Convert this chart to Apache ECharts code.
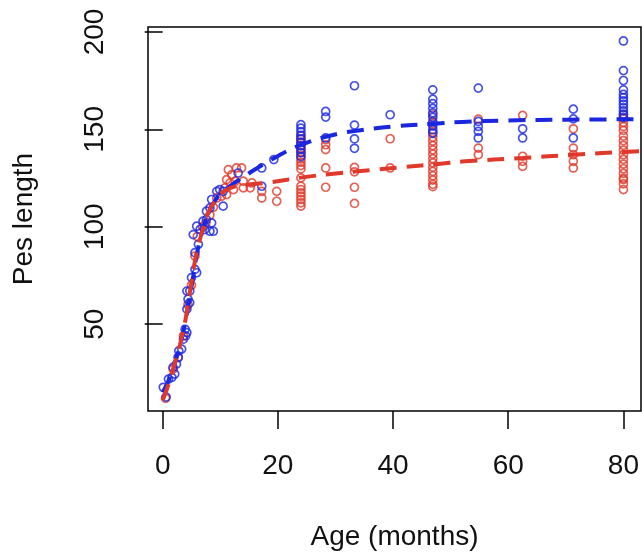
<!DOCTYPE html>
<html>
<head>
<meta charset="utf-8">
<script src="https://cdn.jsdelivr.net/npm/echarts@6/dist/echarts.min.js"></script>
<style>
html,body{margin:0;padding:0;background:#fff;}
#chart{width:642px;height:556px;}
</style>
</head>
<body>
<div id="chart"></div>
<script>
// ---- data ----
var xTicks = [0, 20, 40, 60, 80];
var yTicks = [50, 100, 150, 200];

var blueAge = [0.6,0.1,1.0,1.6,2.1,1.8,2.4,2.7,2.8,3.3,3.6,4.0,4.2,3.9,4.2,4.4,4.2,4.7,4.7,5.0,5.9,5.6,5.6,6.2,5.3,5.9,6.5,7.3,8.2,8.8,7.0,7.6,8.5,7.6,8.2,8.5,9.4,9.9,10.5,10.5,13.1,17.2,17.2,19.3,
  24,24,24,24,24,24,24,24,24,24,
  28.3,28.3,28.3,
  33.3,33.3,33.3,33.3,
  39.5,
  46.9,46.9,46.9,46.9,46.9,46.9,46.9,46.9,46.9,46.9,
  54.8,54.8,54.8,54.8,54.8,
  62.5,62.5,
  71.3,71.3,71.3,
  80,80,80,80,80,80,80,80,80,80,80,80];
var blueLen = [12.6,17.6,21.8,22.7,24.4,27.8,29.5,32.9,36.3,37.2,42.3,44.0,45.7,47.4,57.7,62.8,67.0,67.0,61.1,73.9,76.4,78.1,86.7,91.0,96.0,100.3,98.6,98.6,97.7,97.7,102.9,103.7,102.0,108.0,109.7,114.0,118.2,119.1,110.6,118.2,127.6,130.2,120.8,134.5,
  152.4,150.6,148.8,147.0,145.2,143.4,141.6,139.8,138.0,136.0,
  159.2,156.3,145.6,
  172.4,152.2,145.1,140.3,
  157.5,
  170.3,165.5,163.2,160.8,158.5,156.2,154.0,151.8,149.8,148.0,
  171.2,154.1,151.5,149.0,145.6,
  150.3,145.6,
  160.4,155.4,145.6,
  195.4,180.2,175.1,170.3,168.0,166.3,164.6,162.9,161.2,159.5,157.8,156.2];

var redAge = [0.5,1.8,2.7,3.6,4.4,5.0,5.6,6.0,6.9,7.5,8.2,8.8,9.4,10.2,11.1,10.8,12.3,11.1,11.7,12.6,11.4,12.0,12.8,13.7,14.0,14.0,15.5,15.2,17.2,17.2,19.8,19.8,
  24,24,24,24,24,24,24,24,24,24,24,24,24,24,24,24,24,24,24,
  28.3,28.3,28.3,28.3,28.3,
  33.3,33.3,33.3,33.3,
  39.5,39.5,
  46.9,46.9,46.9,46.9,46.9,46.9,46.9,46.9,46.9,46.9,46.9,46.9,46.9,46.9,46.9,46.9,
  54.8,54.8,54.8,
  62.5,62.5,62.5,62.5,
  71.3,71.3,71.3,71.3,71.3,
  80,80,80,80,80,80,80,80,80,80,80,80,80,80,80,80,80,80];
var redLen = [12.0,27.0,33.0,44.0,60.0,70.0,85.0,95.0,100.0,102.0,106.0,110.0,114.8,115.7,116.5,120.0,119.1,124.2,122.5,123.4,129.3,126.8,130.2,130.2,123.4,120.0,122.5,120.0,118.2,114.8,118.2,113.1,
  146.6,145.0,143.3,141.6,139.9,138.2,136.5,134.8,133.1,131.4,129.7,125.1,120.8,119.1,117.4,115.7,114.0,112.3,110.6,
  144.7,142.1,139.6,130.2,120.3,
  130.5,128.2,120.3,112.0,
  145.2,130.2,
  157.5,153.0,148.5,146.0,144.0,141.7,139.5,137.3,135.0,132.8,130.6,128.4,126.2,124.0,121.8,120.6,
  155.3,140.4,137.0,
  157.2,136.2,133.6,131.0,
  150.3,140.4,137.0,133.6,130.2,
  157.5,155.5,153.5,151.5,149.5,146.6,144.2,141.8,139.4,137.0,134.6,132.2,129.8,127.4,125.0,124.2,122.0,119.1];

var blueFitAge = [0,1,2,3,4,5,6,7,8,9,10,12,14.6,18.9,24,30.5,35,40,47,52,60,70,83];
var blueFitLen = [15,21,29,39,52,69,87,99,107.5,113,117,121.5,126.8,134.5,142,147.8,149.8,151.5,152.9,153.8,154.6,155,155.2];

var redFitAge = [0,1,2,3,4,4.7,5.9,7,7.6,8.5,9.7,11,12.3,15,18.6,24.6,30.5,36.3,42,47.8,52.5,62.5,71.3,80,83];
var redFitLen = [11,19,29,39.5,53,66,87,99,105,110.5,115.7,118.8,120.5,121.7,122.8,125.5,127.5,129.1,130.7,132.2,133.6,135.3,137,138.4,138.8];

// ---- build ----
function pairs(a, b) { return a.map(function (v, i) { return [v, b[i]]; }); }
var BLUE = '#1a26e0';
var RED = '#e0392b';
var FONT = "'Liberation Sans', Arial, sans-serif";

var chart = echarts.init(document.getElementById('chart'), null, {renderer: 'canvas'});
chart.setOption({
  animation: false,
  backgroundColor: '#ffffff',
  grid: {
    left: 148, right: 1, top: 27, bottom: 144,
    show: true, borderColor: '#000', borderWidth: 1.5, backgroundColor: 'transparent'
  },
  xAxis: {
    type: 'value', min: -2.55, max: 83.05,
    name: 'Age (months)', nameLocation: 'middle', nameGap: 112,
    nameTextStyle: {fontSize: 28, fontFamily: FONT, color: '#111'},
    axisLine: {show: false},
    splitLine: {show: false},
    axisTick: {show: true, inside: false, length: 18, lineStyle: {color: '#000', width: 1.5}, customValues: xTicks},
    axisLabel: {show: true, margin: 41, fontSize: 28, fontFamily: FONT, color: '#111', customValues: xTicks}
  },
  yAxis: {
    type: 'value', min: 5.43, max: 202.56,
    name: 'Pes length', nameLocation: 'middle', nameGap: 110,
    nameTextStyle: {fontSize: 28, fontFamily: FONT, color: '#111'},
    axisLine: {show: false},
    splitLine: {show: false},
    axisTick: {show: true, inside: false, length: 18, lineStyle: {color: '#000', width: 1.5}, customValues: yTicks},
    axisLabel: {show: true, rotate: 90, margin: 39, fontSize: 28, fontFamily: FONT, color: '#111', customValues: yTicks}
  },
  series: [
    {
      type: 'scatter', data: pairs(redAge, redLen), symbol: 'circle', symbolSize: 8,
      itemStyle: {color: 'rgba(0,0,0,0)', borderColor: RED, borderWidth: 1.7}, z: 2
    },
    {
      type: 'scatter', data: pairs(blueAge, blueLen), symbol: 'circle', symbolSize: 8,
      itemStyle: {color: 'rgba(0,0,0,0)', borderColor: BLUE, borderWidth: 1.7}, z: 3
    },
    {
      type: 'line', data: pairs(blueFitAge, blueFitLen), smooth: 0.4, showSymbol: false, symbol: 'none',
      lineStyle: {color: BLUE, width: 4, type: [17, 10]}, z: 4, clip: true
    },
    {
      type: 'line', data: pairs(redFitAge, redFitLen), smooth: 0.4, showSymbol: false, symbol: 'none',
      lineStyle: {color: RED, width: 4, type: [17, 10]}, z: 5, clip: true
    }
  ]
});
</script>
</body>
</html>
